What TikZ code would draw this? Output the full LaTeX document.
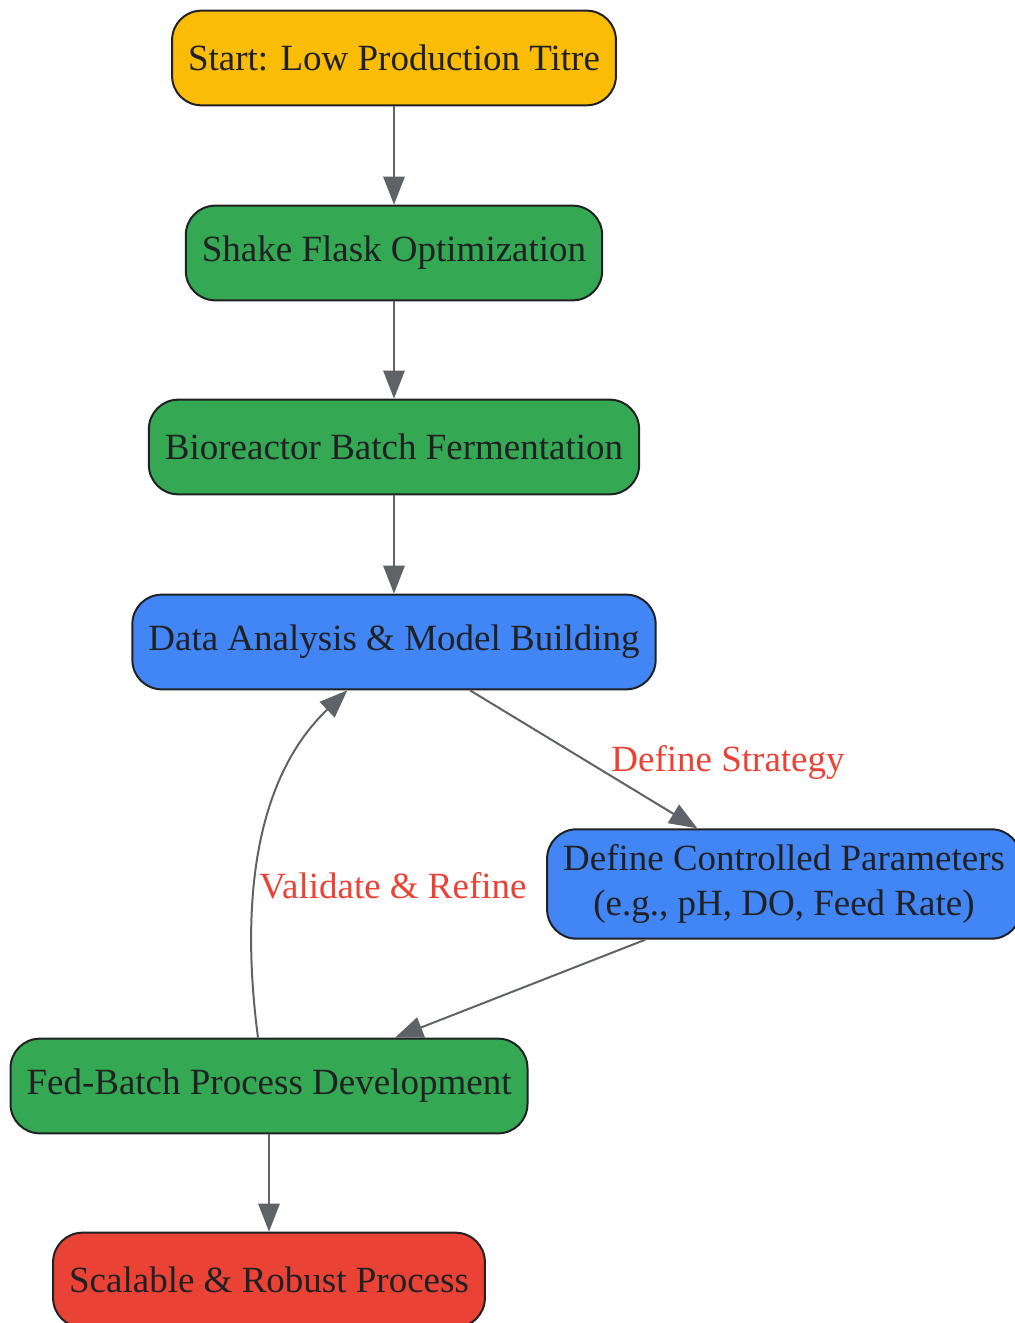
\documentclass[tikz,border=0pt]{standalone}
\usepackage{fontspec}
\setmainfont{Liberation Serif}
\usetikzlibrary{arrows.meta}
\definecolor{startyellow}{HTML}{FBBC05}
\definecolor{stepgreen}{HTML}{34A853}
\definecolor{stepblue}{HTML}{4285F4}
\definecolor{endred}{HTML}{EA4335}
\definecolor{edgegray}{HTML}{5F6368}
\definecolor{textdark}{HTML}{202124}
\tikzset{box/.style = {draw=textdark, line width=1.5pt, rounded corners=22pt,
    minimum height=71pt, inner xsep=12pt, text=textdark, align=center,
    font=\fontsize{27.75}{34}\selectfont},
  flow/.style = {draw=edgegray, line width=1.5pt, -{Triangle[length=21pt,width=16pt]}},
  lbl/.style = {text=endred, font=\fontsize{27.75}{34}\selectfont}}

\begin{document}
\begin{tikzpicture}[x=0.75pt,y=-0.75pt]
  \useasboundingbox (0,0) rectangle (1014,1323);

  \node[box, fill=startyellow] (start) at (394,58) {Start: Low Production Titre};
  \node[box, fill=stepgreen] (shake) at (394,253) {Shake Flask Optimization};
  \node[box, fill=stepgreen] (batch) at (394,447) {Bioreactor Batch Fermentation};
  \node[box, fill=stepblue] (model) at (394,642) {Data Analysis \& Model Building};
  \node[box, fill=stepblue, minimum height=82pt] (params) at (784,884) {Define Controlled Parameters\\(e.g., pH, DO, Feed Rate)};
  \node[box, fill=stepgreen] (fedbatch) at (269,1086) {Fed-Batch Process Development};
  \node[box, fill=endred] (robust) at (269,1280) {Scalable \& Robust Process};

  \draw[flow] (start) -- (shake);
  \draw[flow] (shake) -- (batch);
  \draw[flow] (batch) -- (model);
  \draw[flow] ([xshift=57pt]model.south) -- ([xshift=-65pt]params.north);
  \draw[flow] ([xshift=-104pt]params.south) -- ([xshift=94.5pt]fedbatch.north);
  \draw[flow] ([xshift=-8.25pt]fedbatch.north) .. controls +(-18,-137) and +(-92,88) .. ([xshift=-35pt]model.south);
  \draw[flow] (fedbatch) -- (robust);

  \node[lbl] (strategy) at (728,762) {Define Strategy};
  \node[lbl] (refine) at (393,886) {Validate \& Refine};
\end{tikzpicture}
\end{document}
